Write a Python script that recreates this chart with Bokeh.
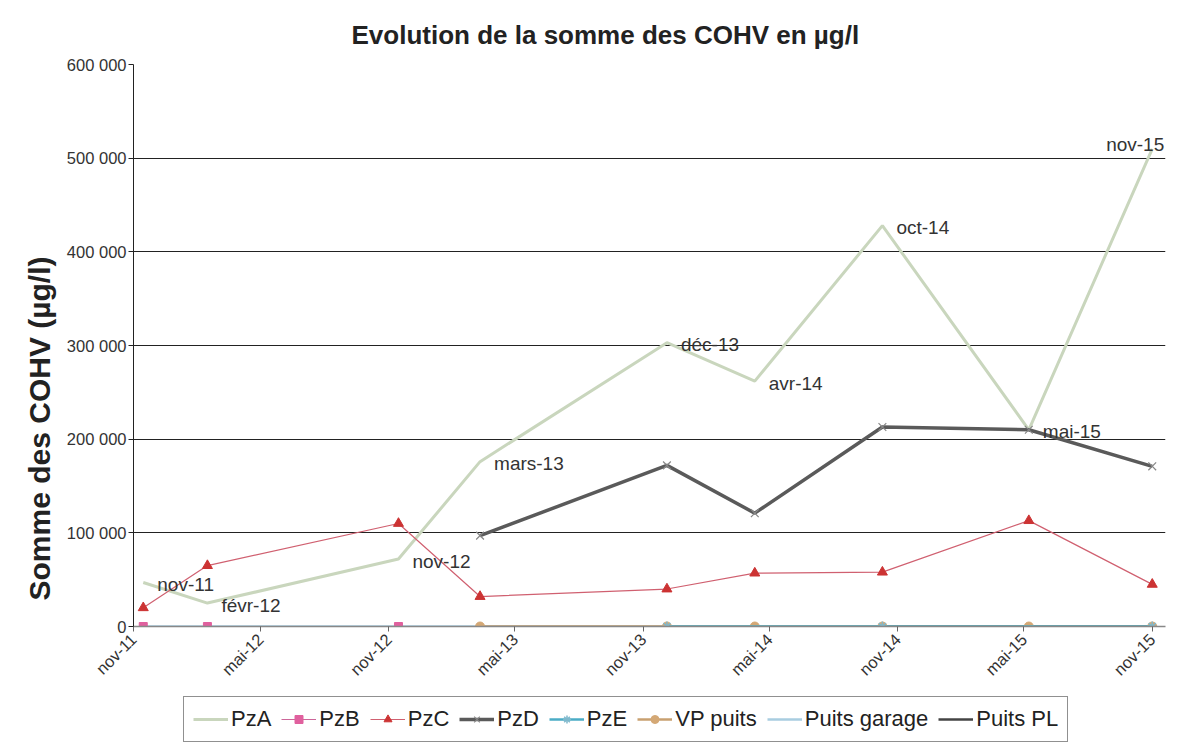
import math
from datetime import datetime
from bokeh.plotting import figure
from bokeh.layouts import column
from bokeh.models import (Range1d, FixedTicker, CustomJSTickFormatter, Legend, LegendItem,
                          ColumnDataSource, Title)
from bokeh.core.properties import value
from bokeh.embed import file_html
from bokeh.resources import INLINE

# ---------------- data ----------------
dates = ["2011-11-15", "2012-02-15", "2012-11-15", "2013-03-12", "2013-12-05",
         "2014-04-10", "2014-10-10", "2015-05-08", "2015-11-01"]
date_labels = ["nov-11", "févr-12", "nov-12", "mars-13", "déc-13", "avr-14", "oct-14", "mai-15", "nov-15"]

pza = [47000, 25000, 72000, 176000, 303000, 262000, 428000, 210000, 510000]
pzb_dates = ["2011-11-15", "2012-02-15", "2012-11-15"]
pzb = [0, 0, 0]
pzc = [20000, 65000, 110000, 32000, 40000, 57000, 58000, 113000, 45000]
pzd_dates = ["2013-03-12", "2013-12-05", "2014-04-10", "2014-10-10", "2015-05-08", "2015-11-01"]
pzd = [97000, 172000, 121000, 213000, 210000, 171000]
pze_dates = ["2013-12-05", "2014-10-10", "2015-11-01"]
pze = [0, 0, 0]
vp_dates = ["2013-03-12", "2013-12-05", "2014-04-10", "2014-10-10", "2015-05-08", "2015-11-01"]
vp = [0, 0, 0, 0, 0, 0]
garage_dates = dates
garage = [0, 0, 0, 0, 0, 0, 0, 0, 0]
pl_dates = ["2014-10-10", "2015-05-08", "2015-11-01"]
pl = [0, 0, 0]

series_names = ["PzA", "PzB", "PzC", "PzD", "PzE", "VP puits", "Puits garage", "Puits PL"]

tick_dates = ["2011-11-01", "2012-05-01", "2012-11-01", "2013-05-01", "2013-11-01",
              "2014-05-01", "2014-11-01", "2015-05-01", "2015-11-01"]
y_ticks = [0, 100000, 200000, 300000, 400000, 500000, 600000]

title_text = "Evolution de la somme des COHV en µg/l"
y_label = "Somme des COHV (µg/l)"


def ts(s):
    return datetime.strptime(s, "%Y-%m-%d")


def ms(s):
    return (ts(s) - datetime(1970, 1, 1)).total_seconds() * 1000.0


FONT = "Liberation Sans"

# styles per series
ST = {
    "PzA": dict(line=dict(line_color="#c9d6bd", line_width=3), marker=None),
    "PzB": dict(line=dict(line_color="#cc6699", line_width=1),
                marker=dict(marker="square", size=8, fill_color="#e0609e", line_color="#e0609e")),
    "PzC": dict(line=dict(line_color="#d06070", line_width=1.2),
                marker=dict(marker="triangle", size=10, fill_color="#cc3333", line_color="#cc3333")),
    "PzD": dict(line=dict(line_color="#5a5a5a", line_width=3.5),
                marker=dict(marker="x", size=11, line_color="#888888", line_width=1.2)),
    "PzE": dict(line=dict(line_color="#4bacc6", line_width=2.5),
                marker=dict(marker="asterisk", size=10, line_color="#7fb8cc", line_width=1.5)),
    "VP puits": dict(line=dict(line_color="#c8a070", line_width=2.5),
                     marker=dict(marker="circle", size=9, fill_color="#d4a875", line_color="#d4a875")),
    "Puits garage": dict(line=dict(line_color="#a8cde0", line_width=2.5), marker=None),
    "Puits PL": dict(line=dict(line_color="#444444", line_width=2.5), marker=None),
}

p = figure(width=1179, height=692, x_axis_type="datetime",
           output_backend="svg", toolbar_location=None,
           x_range=Range1d(ms("2011-11-01"), ms("2015-11-20")),
           y_range=Range1d(0, 600000),
           min_border_left=133, min_border_right=14, min_border_top=64, min_border_bottom=66)

p.title = Title(text=title_text, align="left", text_font=FONT, text_font_size="26px",
                text_font_style="bold", text_color="#222222", offset=218)
p.title.standoff = 30

p.outline_line_color = None
p.background_fill_color = "white"
p.border_fill_color = "white"

# grid
p.xgrid.visible = False
p.ygrid.grid_line_color = "#222222"
p.ygrid.grid_line_width = 1.2
p.ygrid.ticker = FixedTicker(ticks=y_ticks)

# y axis
p.yaxis.ticker = FixedTicker(ticks=y_ticks)
p.yaxis.formatter = CustomJSTickFormatter(
    code="return tick.toFixed(0).replace(/\\B(?=(\\d{3})+(?!\\d))/g, ' ');")
p.yaxis.major_label_text_font = FONT
p.yaxis.major_label_text_font_size = "16.5px"
p.yaxis.major_label_text_color = "#333333"
p.yaxis.major_label_standoff = 2
p.yaxis.axis_line_color = "#222222"
p.yaxis.major_tick_line_color = "#222222"
p.yaxis.major_tick_in = 0
p.yaxis.major_tick_out = 5
p.yaxis.minor_tick_line_color = None

ytitle = Title(text=y_label, align="left", offset=26, text_font=FONT, text_font_size="30px",
               text_font_style="bold", text_color="#222222", standoff=16)
p.add_layout(ytitle, "left")

# x axis
p.xaxis.ticker = FixedTicker(ticks=[ms(d) for d in tick_dates])
p.xaxis.formatter = CustomJSTickFormatter(code="""
const m = ['janv','févr','mars','avr','mai','juin','juil','août','sept','oct','nov','déc'];
const d = new Date(tick);
return m[d.getUTCMonth()] + '-' + String(d.getUTCFullYear()).slice(2);
""")
p.xaxis.major_label_orientation = math.pi / 4
p.xaxis.major_label_text_font = FONT
p.xaxis.major_label_text_font_size = "16.5px"
p.xaxis.major_label_text_color = "#333333"
p.xaxis.axis_line_color = "#888888"
p.xaxis.axis_line_width = 1.5
p.xaxis.major_tick_line_color = "#666666"
p.xaxis.major_tick_in = 0
p.xaxis.major_tick_out = 5
p.xaxis.minor_tick_line_color = None

# ---------------- series ----------------
x_all = [ts(d) for d in dates]
series = [
    ("Puits garage", garage_dates, garage),
    ("Puits PL", pl_dates, pl),
    ("PzA", dates, pza),
    ("PzB", pzb_dates, pzb),
    ("PzC", dates, pzc),
    ("PzD", pzd_dates, pzd),
    ("VP puits", vp_dates, vp),
    ("PzE", pze_dates, pze),
]
for name, dd, vv in series:
    st = ST[name]
    xx = [ts(d) for d in dd]
    p.line(xx, vv, **st["line"])
    if st["marker"]:
        p.scatter(xx, vv, **st["marker"])

# data labels on PzA points
src_lab = ColumnDataSource(dict(x=x_all[:-1], y=pza[:-1], t=date_labels[:-1]))
p.text(x="x", y="y", text="t", source=src_lab, x_offset=14, y_offset=2,
       text_align="left", text_baseline="middle",
       text_font=value(FONT), text_font_size="19px", text_color="#333333")
src_last = ColumnDataSource(dict(x=x_all[-1:], y=pza[-1:], t=date_labels[-1:]))
p.text(x="x", y="y", text="t", source=src_last, x_offset=12, y_offset=-4,
       text_align="right", text_baseline="middle",
       text_font=value(FONT), text_font_size="19px", text_color="#333333")

# ---------------- legend (separate strip below the chart) ----------------
lg = figure(width=1179, height=56, output_backend="svg", toolbar_location=None,
            x_range=Range1d(0, 1), y_range=Range1d(0, 1),
            min_border=0, x_axis_location=None, y_axis_location=None)
lg.outline_line_color = None
lg.grid.visible = False
data_by_name = {n: (d, v) for n, d, v in series}
items = []
for name in series_names:
    st = ST[name]
    dd, vv = data_by_name[name]
    xx = [ts(d) for d in dd]
    rs = [lg.line(xx, vv, visible=False, **st["line"])]
    if st["marker"]:
        rs.append(lg.scatter(xx, vv, visible=False, **st["marker"]))
    items.append(LegendItem(label=name, renderers=rs))

legend = Legend(items=items, orientation="horizontal", location=(50, 6),
                label_text_font=FONT, label_text_font_size="22px", label_text_color="#222222",
                border_line_color="#222222", border_line_width=1.2,
                glyph_width=35, glyph_height=20, label_standoff=3, spacing=10,
                padding=9, margin=0, background_fill_alpha=1, inactive_fill_alpha=0)
lg.add_layout(legend, "center")

layout = column(p, lg, spacing=0)
open("out.html", "w").write(file_html(layout, INLINE))
